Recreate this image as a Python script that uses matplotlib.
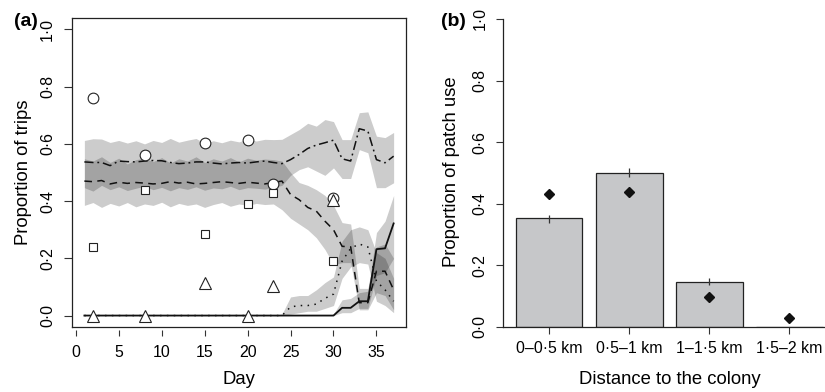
import matplotlib
matplotlib.use("Agg")
import matplotlib.pyplot as plt
import numpy as np

plt.rcParams['font.family'] = ['Liberation Sans', 'DejaVu Sans']

# ---------------- data: panel (a) ----------------
days = list(range(1, 38))

dashdot_mean = [0.537,0.535,0.535,0.524,0.540,0.538,0.537,0.540,0.542,0.541,0.535,0.531,0.533,0.537,0.537,0.533,0.530,0.533,0.535,0.533,0.537,0.540,0.535,
                0.531,0.545,0.563,0.584,0.596,0.604,0.613,0.548,0.540,0.653,0.645,0.545,0.534,0.557]
dashdot_upper = [0.612,0.618,0.617,0.605,0.612,0.603,0.611,0.600,0.612,0.605,0.619,0.606,0.613,0.619,0.602,0.611,0.604,0.613,0.607,0.617,0.610,0.616,0.615,
                 0.616,0.633,0.650,0.672,0.662,0.685,0.678,0.615,0.615,0.709,0.712,0.627,0.622,0.640]
dashdot_lower = [0.447,0.435,0.455,0.440,0.450,0.437,0.445,0.452,0.440,0.448,0.436,0.447,0.441,0.450,0.438,0.446,0.443,0.452,0.440,0.447,0.445,0.442,0.448,
                 0.455,0.490,0.510,0.520,0.505,0.490,0.516,0.479,0.479,0.580,0.569,0.447,0.447,0.464]

dashed_mean = [0.470,0.468,0.472,0.460,0.466,0.462,0.465,0.463,0.460,0.462,0.468,0.463,0.466,0.460,0.462,0.465,0.468,0.465,0.462,0.466,0.463,0.460,0.465,
               0.470,0.423,0.405,0.378,0.365,0.330,0.300,0.242,0.240,0.045,0.045,0.155,0.155,0.090]
dashed_upper = [0.548,0.540,0.555,0.535,0.550,0.530,0.545,0.550,0.538,0.552,0.533,0.548,0.540,0.555,0.535,0.548,0.540,0.552,0.537,0.550,0.543,0.547,0.545,
                0.540,0.500,0.465,0.455,0.440,0.420,0.385,0.325,0.320,0.095,0.095,0.240,0.250,0.200]
dashed_lower = [0.385,0.395,0.378,0.392,0.383,0.395,0.380,0.390,0.385,0.396,0.380,0.392,0.385,0.390,0.378,0.388,0.395,0.382,0.390,0.385,0.392,0.388,0.390,
                0.370,0.340,0.320,0.300,0.272,0.231,0.178,0.185,0.185,0.020,0.020,0.080,0.070,0.020]

dotted_mean = [0.0]*23 + [0.000,0.030,0.035,0.035,0.040,0.060,0.075,0.190,0.235,0.250,0.240,0.120,0.090,0.050]
dotted_upper = [0.0]*23 + [0.005,0.065,0.070,0.070,0.090,0.115,0.135,0.260,0.300,0.310,0.300,0.220,0.200,0.130]
dotted_lower = [0.0]*23 + [0.000,0.005,0.010,0.015,0.015,0.025,0.035,0.130,0.170,0.185,0.180,0.050,0.035,0.010]

solid_mean = [0.0]*29 + [0.000,0.027,0.027,0.050,0.050,0.232,0.235,0.322]
solid_upper = [0.0]*29 + [0.005,0.055,0.060,0.080,0.085,0.290,0.330,0.420]
solid_lower = [0.0]*29 + [0.000,0.010,0.010,0.025,0.025,0.140,0.150,0.200]

obs_days = [2, 8, 15, 20, 23, 30]
obs_circle = [0.761, 0.560, 0.604, 0.612, 0.461, 0.410]
obs_square = [0.240, 0.440, 0.286, 0.390, 0.429, 0.191]
obs_triangle = [0.000, 0.000, 0.114, 0.000, 0.105, 0.405]

xticks_a = [0, 5, 10, 15, 20, 25, 30, 35]
yticks = [0.0, 0.2, 0.4, 0.6, 0.8, 1.0]
ytick_labels = ['0·0', '0·2', '0·4', '0·6', '0·8', '1·0']

# ---------------- data: panel (b) ----------------
dist_labels = ['0–0·5 km', '0·5–1 km', '1–1·5 km', '1·5–2 km']
patch_use = [0.353, 0.499, 0.146, 0.0]
patch_err_low = [0.338, 0.487, 0.136, 0.0]
patch_err_high = [0.363, 0.515, 0.158, 0.0]
patch_avail = [0.431, 0.439, 0.098, 0.028]

# ---------------- figure ----------------
W, H = 825, 392
fig = plt.figure(figsize=(W/100, H/100), dpi=100)

def px2fig(x0, y0, x1, y1):
    return [x0/W, 1 - y1/H, (x1-x0)/W, (y1-y0)/H]

PX = 0.72  # points per pixel
TICK_FS = 11.4
LAB_FS = 13.3
PANEL_FS = 14

# ---- panel (a)
ax = fig.add_axes(px2fig(72, 18, 406, 327))
band_kw = dict(color='black', alpha=0.2, linewidth=0)
ax.fill_between(days, dashdot_lower, dashdot_upper, **band_kw)
ax.fill_between(days, dashed_lower, dashed_upper, **band_kw)
ax.fill_between(days, dotted_lower, dotted_upper, **band_kw)
ax.fill_between(days, solid_lower, solid_upper, **band_kw)

lc = '#111111'
ax.plot(days, dashdot_mean, color=lc, lw=1.1, linestyle=(0, (6, 2.5, 1.2, 2.5)))
ax.plot(days, dashed_mean, color=lc, lw=1.1, linestyle=(0, (5, 3.5)))
ax.plot(days, dotted_mean, color=lc, lw=1.1, linestyle=(0, (1, 3.5)))
ax.plot(days, solid_mean, color=lc, lw=1.3, linestyle='-')

mk = dict(linestyle='none', markerfacecolor='white', markeredgecolor='#222222', markeredgewidth=0.8, zorder=5)
ax.plot(obs_days, obs_circle, marker='o', markersize=7.7, **mk)
ax.plot(obs_days, obs_square, marker='s', markersize=5.8, **mk)
ax.plot(obs_days, obs_triangle, marker='^', markersize=8.0, **mk)

ax.set_xlim(-0.44, 38.44)
ax.set_ylim(-0.04, 1.04)
ax.set_xticks(xticks_a)
ax.set_xticklabels([str(v) for v in xticks_a])
ax.set_yticks(yticks)
ax.set_yticklabels(ytick_labels, rotation=90, va='center')
for s in ['top', 'left', 'right']:
    ax.spines[s].set_linewidth(0.9)
    ax.spines[s].set_color('#222222')
ax.spines['bottom'].set_position(('outward', 3*PX))
ax.spines['bottom'].set_visible(False)
ax.plot([0, 1], [0, 0], transform=ax.transAxes, color='#222222', lw=0.9, clip_on=False, zorder=6)
ax.tick_params(axis='x', direction='out', length=6*PX, width=0.8, color='#333333', pad=9*PX, labelsize=TICK_FS)
ax.tick_params(axis='y', direction='out', length=8*PX, width=0.8, color='#333333', pad=9*PX, labelsize=TICK_FS)

fig.text(24/W, 1 - 172/H, 'Proportion of trips', rotation=90, ha='center', va='center', fontsize=LAB_FS)
fig.text(239/W, 1 - 380/H, 'Day', ha='center', va='center', fontsize=LAB_FS)
fig.text(25.5/W, 1 - 22/H, '(a)', ha='center', va='center', fontsize=PANEL_FS, fontweight='bold')

# ---- panel (b)
bx_left = 503.3
scale = 66.8
bx = fig.add_axes(px2fig(bx_left, 19, bx_left + 4.968*scale, 327))
pos = [0.7, 1.9, 3.1, 4.3]
bx.bar(pos, patch_use, width=1.0, color='#c6c7c9', edgecolor='#222222', linewidth=0.9, zorder=2)
bx.vlines(pos[:3], patch_err_low[:3], patch_err_high[:3], color='#333333', lw=0.9, zorder=3)
bx.plot(pos, patch_avail, linestyle='none', marker='D', markersize=5.6, color='#111111', zorder=4)
bx.set_xlim(0.016, 4.984)
bx.set_ylim(0, 1)
bx.set_xticks(pos)
bx.set_xticklabels(dist_labels)
bx.set_yticks(yticks)
bx.set_yticklabels(ytick_labels, rotation=90, va='center')
bx.spines['top'].set_visible(False)
bx.spines['right'].set_visible(False)
bx.spines['left'].set_linewidth(0.9)
bx.spines['bottom'].set_linewidth(0.9)
bx.spines['left'].set_color('#222222')
bx.spines['bottom'].set_color('#222222')
bx.tick_params(axis='x', direction='out', length=7*PX, width=0.8, color='#333333', pad=7*PX, labelsize=TICK_FS)
bx.tick_params(axis='y', direction='out', length=7*PX, width=0.8, color='#333333', pad=9*PX, labelsize=TICK_FS)

fig.text(451/W, 1 - 172/H, 'Proportion of patch use', rotation=90, ha='center', va='center', fontsize=LAB_FS)
fig.text(670/W, 1 - 380/H, 'Distance to the colony', ha='center', va='center', fontsize=LAB_FS)
fig.text(453.5/W, 1 - 21/H, '(b)', ha='center', va='center', fontsize=PANEL_FS, fontweight='bold')

fig.savefig('out.png', dpi=100)
